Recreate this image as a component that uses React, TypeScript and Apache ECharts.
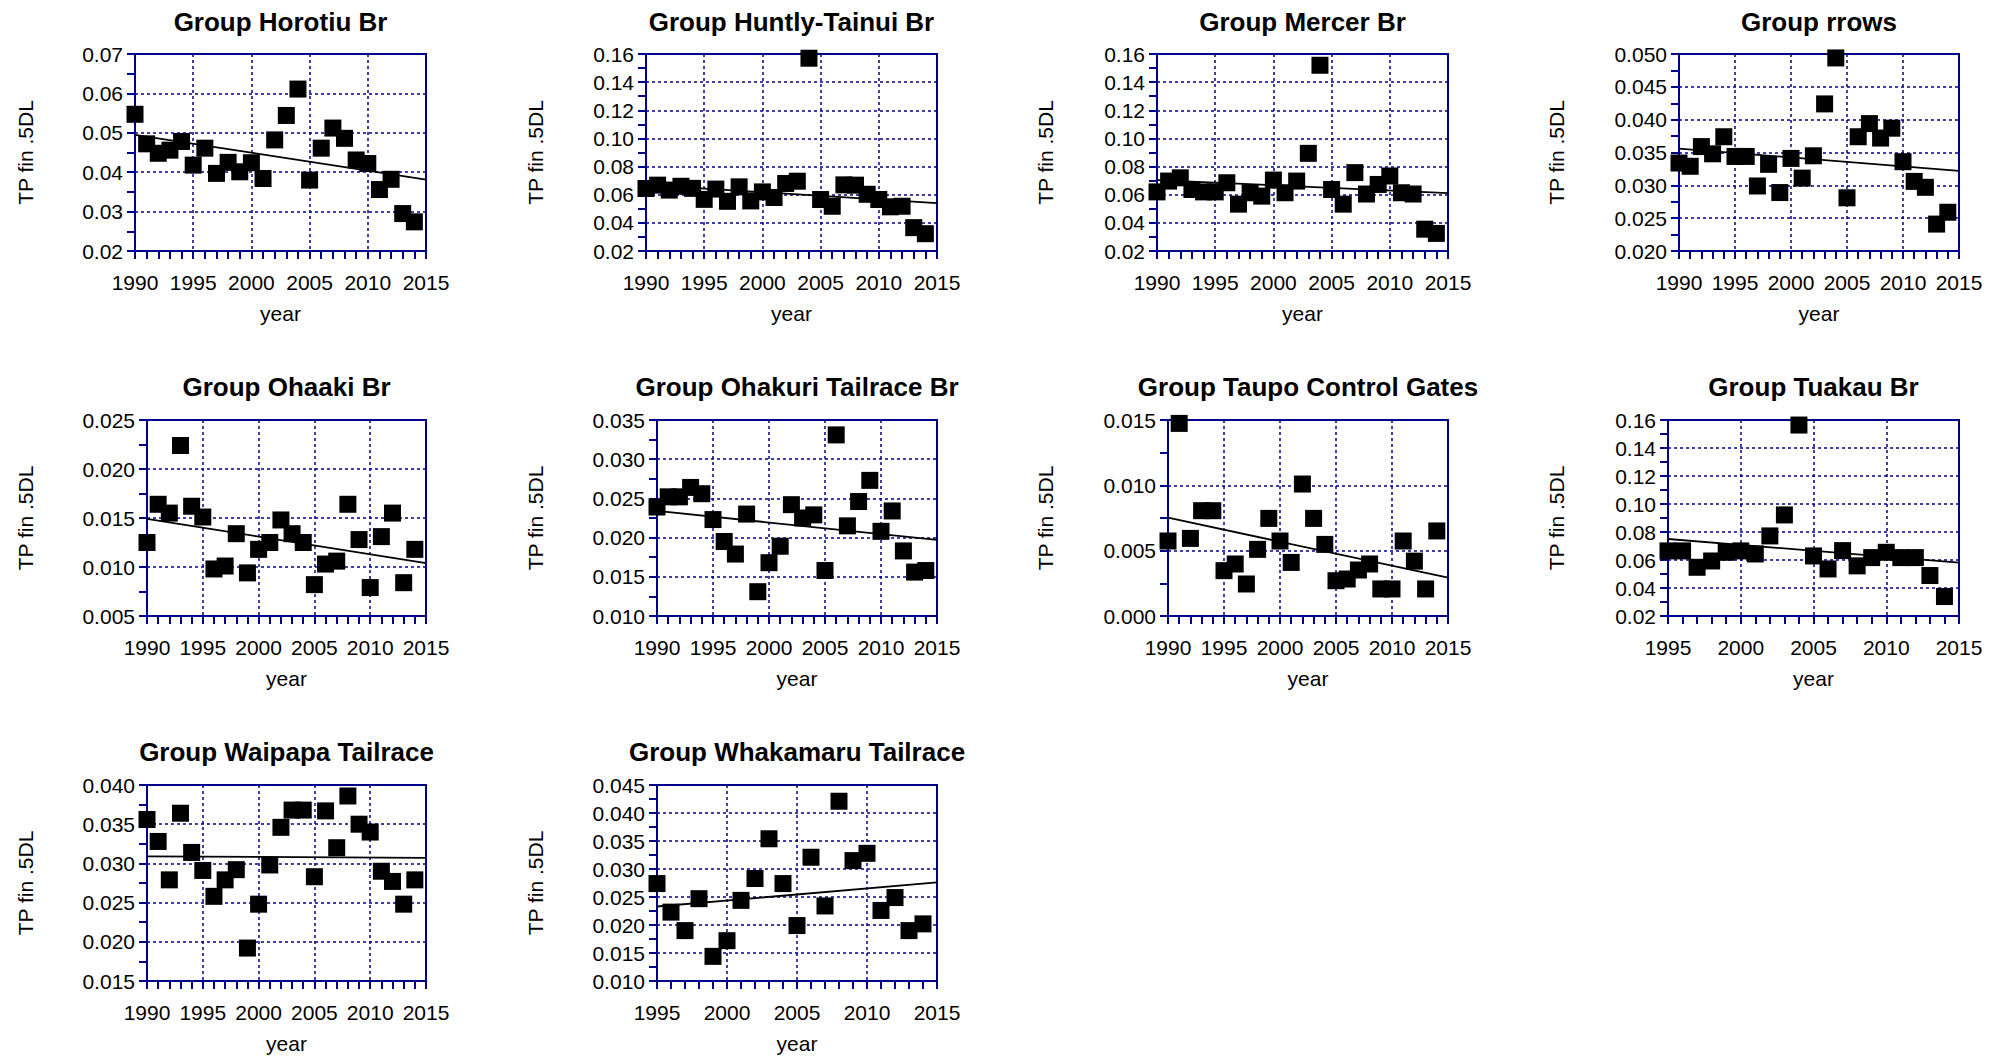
import React, { useEffect, useRef } from "react";
import * as echarts from "echarts";

const years1990 = [1990, 1991, 1992, 1993, 1994, 1995, 1996, 1997, 1998, 1999, 2000, 2001, 2002, 2003, 2004, 2005, 2006, 2007, 2008, 2009, 2010, 2011, 2012, 2013, 2014];
const years1995 = [1995, 1996, 1997, 1998, 1999, 2000, 2001, 2002, 2003, 2004, 2005, 2006, 2007, 2008, 2009, 2010, 2011, 2012, 2013, 2014];
const trend1990 = [1990, 2015];
const trend1995 = [1995, 2015];

const horotiu = [0.0547, 0.0472, 0.0448, 0.0456, 0.0478, 0.0418, 0.0461, 0.0397, 0.0425, 0.0401, 0.0424, 0.0384, 0.0482, 0.0544, 0.0611, 0.0380, 0.0461, 0.0512, 0.0486, 0.0431, 0.0422, 0.0356, 0.0382, 0.0295, 0.0274];
const horotiuTrend = [0.0495, 0.0381];

const huntly = [0.0644, 0.0668, 0.0633, 0.0660, 0.0645, 0.0567, 0.0640, 0.0553, 0.0656, 0.0556, 0.0620, 0.0580, 0.0680, 0.0696, 0.1570, 0.0566, 0.0518, 0.0670, 0.0668, 0.0603, 0.0566, 0.0514, 0.0518, 0.0366, 0.0323];
const huntlyTrend = [0.0670, 0.0540];

const mercer = [0.0620, 0.0697, 0.0720, 0.0637, 0.0620, 0.0620, 0.0685, 0.0533, 0.0614, 0.0590, 0.0704, 0.0614, 0.0697, 0.0894, 0.1520, 0.0637, 0.0533, 0.0757, 0.0605, 0.0673, 0.0733, 0.0614, 0.0605, 0.0355, 0.0325];
const mercerTrend = [0.0704, 0.0612];

const rrows = [0.0334, 0.0329, 0.0359, 0.0348, 0.0374, 0.0344, 0.0344, 0.0299, 0.0332, 0.0289, 0.0341, 0.0311, 0.0345, 0.0424, 0.0494, 0.0281, 0.0374, 0.0394, 0.0372, 0.0387, 0.0336, 0.0306, 0.0297, 0.0241, 0.0259];
const rrowsTrend = [0.0356, 0.0322];

const ohaaki = [0.0125, 0.0164, 0.0155, 0.0224, 0.0162, 0.0151, 0.0098, 0.0101, 0.0134, 0.0094, 0.0118, 0.0125, 0.0148, 0.0134, 0.0125, 0.0082, 0.0103, 0.0106, 0.0164, 0.0128, 0.0079, 0.0131, 0.0155, 0.0084, 0.0118];
const ohaakiTrend = [0.0149, 0.0104];

const ohakuri = [0.0239, 0.0252, 0.0252, 0.0264, 0.0256, 0.0223, 0.0195, 0.0179, 0.0230, 0.0131, 0.0168, 0.0189, 0.0242, 0.0225, 0.0229, 0.0158, 0.0331, 0.0215, 0.0246, 0.0273, 0.0208, 0.0234, 0.0183, 0.0156, 0.0158];
const ohakuriTrend = [0.0234, 0.0197];

const taupo = [0.00574, 0.01474, 0.00594, 0.00806, 0.00806, 0.00347, 0.00398, 0.00245, 0.0051, 0.00747, 0.00574, 0.0041, 0.0101, 0.00747, 0.00548, 0.0027, 0.00283, 0.00352, 0.00398, 0.00207, 0.00207, 0.00574, 0.0042, 0.00207, 0.00651];
const taupoTrend = [0.00752, 0.00293];

const tuakau = [0.0665, 0.0665, 0.0548, 0.0593, 0.0655, 0.0665, 0.0643, 0.0772, 0.0922, 0.1564, 0.0629, 0.0536, 0.0667, 0.0558, 0.0617, 0.0655, 0.0617, 0.0617, 0.0489, 0.0339];
const tuakauTrend = [0.0750, 0.0581];

const waipapa = [0.0356, 0.0328, 0.0279, 0.0364, 0.0314, 0.0291, 0.0258, 0.0279, 0.0292, 0.0192, 0.0248, 0.0298, 0.0346, 0.0368, 0.0368, 0.0283, 0.0367, 0.0320, 0.0386, 0.0350, 0.0340, 0.0290, 0.0277, 0.0248, 0.0279];
const waipapaTrend = [0.0309, 0.0307];

const whakamaru = [0.0274, 0.0223, 0.0190, 0.0247, 0.0144, 0.0172, 0.0244, 0.0283, 0.0354, 0.0274, 0.0199, 0.0321, 0.0234, 0.0421, 0.0315, 0.0328, 0.0226, 0.0249, 0.0190, 0.0202];
const whakamaruTrend = [0.0233, 0.0276];

const titles = [
  "Group Horotiu Br",
  "Group Huntly-Tainui Br",
  "Group Mercer Br",
  "Group rrows",
  "Group Ohaaki Br",
  "Group Ohakuri Tailrace Br",
  "Group Taupo Control Gates",
  "Group Tuakau Br",
  "Group Waipapa Tailrace",
  "Group Whakamaru Tailrace",
];

const FONT = '"Liberation Sans", Arial, Helvetica, sans-serif';
const NAVY = "#00008B";
const LABEL_SIZE = 21;

type Panel = {
  title: string;
  years: number[];
  values: number[];
  trendX: number[];
  trendY: number[];
  xMin: number;
  yMin: number;
  yMax: number;
  yInt: number;
  dec: number;
  left: number;
  top: number;
  width: number;
  height: number;
  nameGap: number;
};

const panels: Panel[] = [
  { title: titles[0], years: years1990, values: horotiu, trendX: trend1990, trendY: horotiuTrend, xMin: 1990, yMin: 0.02, yMax: 0.07, yInt: 0.01, dec: 2, left: 135, top: 54, width: 291, height: 197, nameGap: 99 },
  { title: titles[1], years: years1990, values: huntly, trendX: trend1990, trendY: huntlyTrend, xMin: 1990, yMin: 0.02, yMax: 0.16, yInt: 0.02, dec: 2, left: 646, top: 54, width: 291, height: 197, nameGap: 100 },
  { title: titles[2], years: years1990, values: mercer, trendX: trend1990, trendY: mercerTrend, xMin: 1990, yMin: 0.02, yMax: 0.16, yInt: 0.02, dec: 2, left: 1157, top: 54, width: 291, height: 197, nameGap: 101 },
  { title: titles[3], years: years1990, values: rrows, trendX: trend1990, trendY: rrowsTrend, xMin: 1990, yMin: 0.02, yMax: 0.05, yInt: 0.005, dec: 3, left: 1679, top: 54, width: 280, height: 197, nameGap: 112 },
  { title: titles[4], years: years1990, values: ohaaki, trendX: trend1990, trendY: ohaakiTrend, xMin: 1990, yMin: 0.005, yMax: 0.025, yInt: 0.005, dec: 3, left: 147, top: 420, width: 279, height: 196, nameGap: 111 },
  { title: titles[5], years: years1990, values: ohakuri, trendX: trend1990, trendY: ohakuriTrend, xMin: 1990, yMin: 0.01, yMax: 0.035, yInt: 0.005, dec: 3, left: 657, top: 420, width: 280, height: 196, nameGap: 111 },
  { title: titles[6], years: years1990, values: taupo, trendX: trend1990, trendY: taupoTrend, xMin: 1990, yMin: 0, yMax: 0.015, yInt: 0.005, dec: 3, left: 1168, top: 420, width: 280, height: 196, nameGap: 112 },
  { title: titles[7], years: years1995, values: tuakau, trendX: trend1995, trendY: tuakauTrend, xMin: 1995, yMin: 0.02, yMax: 0.16, yInt: 0.02, dec: 2, left: 1668, top: 420, width: 291, height: 196, nameGap: 101 },
  { title: titles[8], years: years1990, values: waipapa, trendX: trend1990, trendY: waipapaTrend, xMin: 1990, yMin: 0.015, yMax: 0.04, yInt: 0.005, dec: 3, left: 147, top: 785, width: 279, height: 196, nameGap: 111 },
  { title: titles[9], years: years1995, values: whakamaru, trendX: trend1995, trendY: whakamaruTrend, xMin: 1995, yMin: 0.01, yMax: 0.045, yInt: 0.005, dec: 3, left: 657, top: 785, width: 280, height: 196, nameGap: 111 },
];

const titleTextY = [22, 387, 752];

export default function App() {
  const ref = useRef<HTMLDivElement>(null);
  useEffect(() => {
    if (!ref.current) return;
    const chart = echarts.init(ref.current, undefined, { renderer: "svg" });
    const lineStyle = { color: NAVY, width: 2 };
    const textBase = { fontSize: LABEL_SIZE, fontFamily: FONT, color: "#000" };
    const option: any = {
      animation: false,
      backgroundColor: "#ffffff",
      grid: panels.map((p) => ({
        left: p.left,
        top: p.top,
        width: p.width,
        height: p.height,
        show: true,
        borderColor: NAVY,
        borderWidth: 2,
        backgroundColor: "transparent",
        containLabel: false,
      })),
      xAxis: panels.map((p, i) => ({
        type: "value",
        gridIndex: i,
        min: p.xMin,
        max: 2015,
        interval: 5,
        name: "year",
        nameLocation: "middle",
        nameGap: 52,
        nameTextStyle: textBase,
        axisLine: { show: true, onZero: false, lineStyle },
        axisTick: { show: true, length: 8, lineStyle },
        minorTick: { show: true, splitNumber: 5, length: 8, lineStyle },
        splitLine: { show: true, lineStyle: { color: NAVY, width: 1.5, type: [3, 3] } },
        axisLabel: { ...textBase, margin: 21, formatter: (v: number) => String(Math.round(v)) },
      })),
      yAxis: panels.map((p, i) => ({
        type: "value",
        gridIndex: i,
        min: p.yMin,
        max: p.yMax,
        interval: p.yInt,
        name: "TP fin .5DL",
        nameLocation: "middle",
        nameGap: p.nameGap,
        nameRotate: 90,
        nameTextStyle: textBase,
        axisLine: { show: true, onZero: false, lineStyle },
        axisTick: { show: true, length: 8, lineStyle },
        minorTick: { show: true, splitNumber: 2, length: 8, lineStyle },
        splitLine: { show: true, lineStyle: { color: NAVY, width: 1.5, type: [3, 3] } },
        axisLabel: { ...textBase, margin: 12, formatter: (v: number) => v.toFixed(p.dec) },
      })),
      graphic: panels.map((p, i) => ({
        type: "text",
        x: p.left + p.width / 2,
        y: titleTextY[Math.floor(i / 4)],
        style: {
          text: p.title,
          font: `bold 26px ${FONT}`,
          fill: "#000",
          align: "center",
          verticalAlign: "middle",
          textAlign: "center",
          textVerticalAlign: "middle",
        },
      })),
      series: panels.flatMap((p, i) => [
        {
          type: "line",
          xAxisIndex: i,
          yAxisIndex: i,
          data: p.trendX.map((x, k) => [x, p.trendY[k]]),
          symbol: "none",
          lineStyle: { color: "#000", width: 1.8 },
          z: 2,
          silent: true,
        },
        {
          type: "scatter",
          xAxisIndex: i,
          yAxisIndex: i,
          data: p.years.map((y, k) => [y, p.values[k]]),
          symbol: "rect",
          symbolSize: 17,
          itemStyle: { color: "#000", opacity: 1 },
          z: 3,
        },
      ]),
    };
    chart.setOption(option);
    return () => chart.dispose();
  }, []);
  return (
    <div
      ref={ref}
      style={{ position: "absolute", left: 0, top: 0, width: 2006, height: 1059, background: "#fff" }}
    />
  );
}
